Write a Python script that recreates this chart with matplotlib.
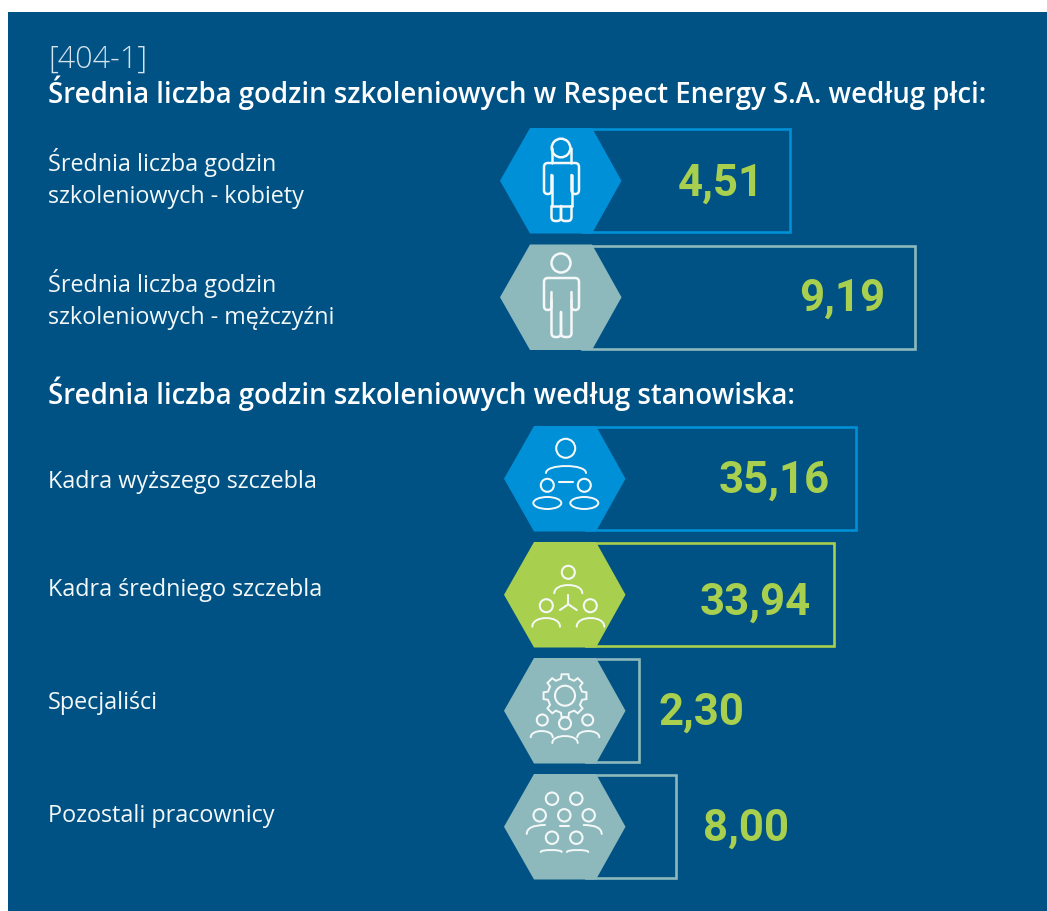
import numpy as np
import matplotlib
matplotlib.use('Agg')
import matplotlib.pyplot as plt
from matplotlib.patches import Rectangle, Polygon, Circle, Ellipse, PathPatch
from matplotlib.path import Path

# datos
titulo_id = '[404-1]'
titulo_plec = 'Średnia liczba godzin szkoleniowych w Respect Energy S.A. według płci:'
titulo_stan = 'Średnia liczba godzin szkoleniowych według stanowiska:'
etykiety = [['Średnia liczba godzin', 'szkoleniowych - kobiety'],
            ['Średnia liczba godzin', 'szkoleniowych - mężczyźni'],
            ['Kadra wyższego szczebla'],
            ['Kadra średniego szczebla'],
            ['Specjaliści'],
            ['Pozostali pracownicy']]
wartosci = [4.51, 9.19, 35.16, 33.94, 2.30, 8.00]

# uklad
hex_x0 = [500, 500, 504, 504, 504, 504]
hex_y0 = [128, 244.5, 426, 542, 658, 774]
box_x1 = [791, 916, 857, 835, 640, 677]
val_x = [720.5, 842.5, 774, 755.5, 701.5, 746]
val_y = [196, 311, 493, 615, 725, 841]
lab_y = [171, 292, 488, 596, 709, 822]

NIEBIESKI = '#0090D7'
SZARY = '#8DB9BC'
ZIELONY = '#A9CF4E'
TLO = '#005285'
kolory = [NIEBIESKI, SZARY, NIEBIESKI, ZIELONY, SZARY, SZARY]
BIALY = '#F4F8F8'

plt.rcParams['font.family'] = ['Open Sans', 'DejaVu Sans']

fig = plt.figure(figsize=(10.47, 9.11), dpi=100, facecolor='white')
ax = fig.add_axes([0, 0, 1, 1])
ax.set_xlim(0, 1047)
ax.set_ylim(911, 0)
ax.axis('off')

ax.add_patch(Rectangle((8, 12), 1039, 899, fc=TLO, ec='none', zorder=0))


def okrag(x, y, r, lw=1.5):
    ax.add_patch(Circle((x, y), r, fc='none', ec=BIALY, lw=lw, zorder=5))


def elipsa(x, y, w, h):
    ax.add_patch(Ellipse((x, y), w, h, fc='none', ec=BIALY, lw=1.4, zorder=5))


def linia(xs, ys, lw=1.5):
    ax.plot(xs, ys, color=BIALY, lw=lw, solid_capstyle='round', zorder=5)


def ramiona(x0, x1, base, gora):
    # luk barkow
    verts = [(x0, base), (x0, gora - (base - gora) * 0.33),
             (x1, gora - (base - gora) * 0.33), (x1, base)]
    codes = [Path.MOVETO, Path.CURVE4, Path.CURVE4, Path.CURVE4]
    ax.add_patch(PathPatch(Path(verts, codes), fc='none', ec=BIALY, lw=1.4,
                           capstyle='round', zorder=5))


def lamana(pts, r=4, lw=1.8):
    # linia lamana z zaokraglonymi rogami
    pts = np.array(pts, dtype=float)
    verts = [pts[0]]
    codes = [Path.MOVETO]
    for i in range(1, len(pts) - 1):
        a = pts[i] - pts[i - 1]
        b = pts[i + 1] - pts[i]
        ra = min(r, np.linalg.norm(a) / 2)
        rb = min(r, np.linalg.norm(b) / 2)
        verts += [pts[i] - a / np.linalg.norm(a) * ra, pts[i],
                  pts[i] + b / np.linalg.norm(b) * rb]
        codes += [Path.LINETO, Path.CURVE3, Path.CURVE3]
    verts.append(pts[-1])
    codes.append(Path.LINETO)
    ax.add_patch(PathPatch(Path(verts, codes), fc='none', ec=BIALY, lw=lw,
                           capstyle='round', zorder=5))


def ikona_kobieta():
    okrag(561, 148, 9.3, 1.8)
    linia([552, 552], [148, 163], 1.8)
    linia([570.5, 570.5], [148, 163], 1.8)
    lamana([(551.5, 175), (551.5, 194), (544, 194), (544, 163),
            (579, 163), (579, 194), (571.5, 194), (571.5, 175)], 4)
    linia([551.5, 551.5], [175, 206], 1.8)
    linia([571.5, 571.5], [175, 206], 1.8)
    linia([551.5, 571.5], [206, 206], 1.8)
    lamana([(551.5, 206), (551.5, 221), (561, 221), (561, 206)], 4)
    lamana([(561, 206), (561, 221), (571.5, 221), (571.5, 206)], 4)


def ikona_mezczyzna():
    okrag(561, 263, 9.5, 1.8)
    lamana([(551.5, 292), (551.5, 310), (544, 310), (544, 278), (579, 278),
            (579, 310), (571.5, 310), (571.5, 292)], 4)
    lamana([(551.5, 300), (551.5, 337), (561, 337), (561, 312)], 4)
    lamana([(561, 312), (561, 337), (571.5, 337), (571.5, 300)], 4)


def ikona_wyzsza():
    okrag(565.7, 448.3, 9.5)
    ramiona(546, 586, 473, 466)
    okrag(547.3, 485.3, 6.5)
    okrag(584.3, 485.3, 6.5)
    linia([559, 573], [481.7, 481.7])
    elipsa(547.3, 503, 28, 12)
    elipsa(584.3, 503, 28, 12)


def ikona_srednia():
    okrag(568.3, 572.3, 6.5)
    ramiona(554.3, 582.3, 593.3, 585)
    linia([568.3, 568.3], [595, 604.3])
    linia([560, 568.3, 576.7], [610, 604.3, 610])
    okrag(546.3, 605.7, 6.5)
    okrag(590.3, 605.7, 6.5)
    ramiona(532.3, 560, 626.7, 618)
    ramiona(576.7, 604.3, 626.7, 618)


def ikona_specjalisci():
    cx, cy = 565, 695.7
    zeby = 8
    kat = []
    prom = []
    for i in range(zeby):
        s = 2 * np.pi * i / zeby
        d = 2 * np.pi / zeby
        kat += [s - d * 0.30, s - d * 0.20, s + d * 0.20, s + d * 0.30]
        prom += [17.5, 21.7, 21.7, 17.5]
    kat = np.array(kat)
    prom = np.array(prom)
    ax.add_patch(Polygon(np.c_[cx + prom * np.cos(kat), cy + prom * np.sin(kat)],
                         closed=True, fc='none', ec=BIALY, lw=1.4, zorder=5))
    okrag(cx, cy, 10)
    okrag(542.3, 720, 5.5)
    okrag(565, 723.3, 6)
    okrag(587.7, 720, 5.5)
    ramiona(530.7, 552.7, 737.3, 731)
    ramiona(552.3, 577.7, 743, 736)
    ramiona(577.3, 599.3, 737.3, 731)


def ikona_pozostali():
    for x, y in [(552, 798.7), (576.3, 798.7), (539.7, 815.3), (564.3, 815.3),
                 (588.7, 815.3), (552, 837.7), (576.3, 837.7)]:
        okrag(x, y, 6.2)
    linia([559.5, 569], [825.5, 825.5])
    for v in ([(526.7, 834), (527, 825), (545, 825)], [(601.7, 834), (601.4, 825), (583.7, 825)]):
        ax.add_patch(PathPatch(Path(v, [Path.MOVETO, Path.CURVE3, Path.CURVE3]), fc='none',
                               ec=BIALY, lw=1.4, capstyle='round', zorder=5))
    ramiona(540.7, 561.7, 852, 850)
    ramiona(567, 588.3, 852, 850)


ikony = [ikona_kobieta, ikona_mezczyzna, ikona_wyzsza, ikona_srednia, ikona_specjalisci, ikona_pozostali]

SZER = 121.5
WYS = 105.5
for i, w in enumerate(wartosci):
    x0, y0 = hex_x0[i], hex_y0[i]
    ax.add_patch(Rectangle((x0 + 82, y0 + 1.2), box_x1[i] - x0 - 82 - 1.2, WYS - 2.4,
                           fc='none', ec=kolory[i], lw=1.9, joinstyle='miter', zorder=2))
    ax.add_patch(Polygon([(x0, y0 + WYS / 2), (x0 + 30, y0), (x0 + 92, y0),
                          (x0 + SZER, y0 + WYS / 2), (x0 + 92, y0 + WYS), (x0 + 30, y0 + WYS)],
                         closed=True, fc=kolory[i], ec='none', zorder=3))
    ikony[i]()
    ax.text(val_x[i], val_y[i], f'{w:.2f}'.replace('.', ','), color=ZIELONY, fontsize=31.5,
            family=['Roboto', 'DejaVu Sans'], fontweight='bold', ha='center', va='baseline', zorder=6)
    for j, tekst in enumerate(etykiety[i]):
        ax.text(48, lab_y[i] + 32 * j, tekst, color=BIALY, fontsize=16.8, ha='left', va='baseline', zorder=6)

ax.text(48, 68, titulo_id, color='#D5E3EC', fontsize=22, fontweight='light', ha='left', va='baseline')
ax.text(48, 103, titulo_plec, color='white', fontsize=19.9, fontweight='semibold', ha='left', va='baseline')
ax.text(48, 404, titulo_stan, color='white', fontsize=19.9, fontweight='semibold', ha='left', va='baseline')

fig.savefig('out.png', dpi=100, facecolor='white')
